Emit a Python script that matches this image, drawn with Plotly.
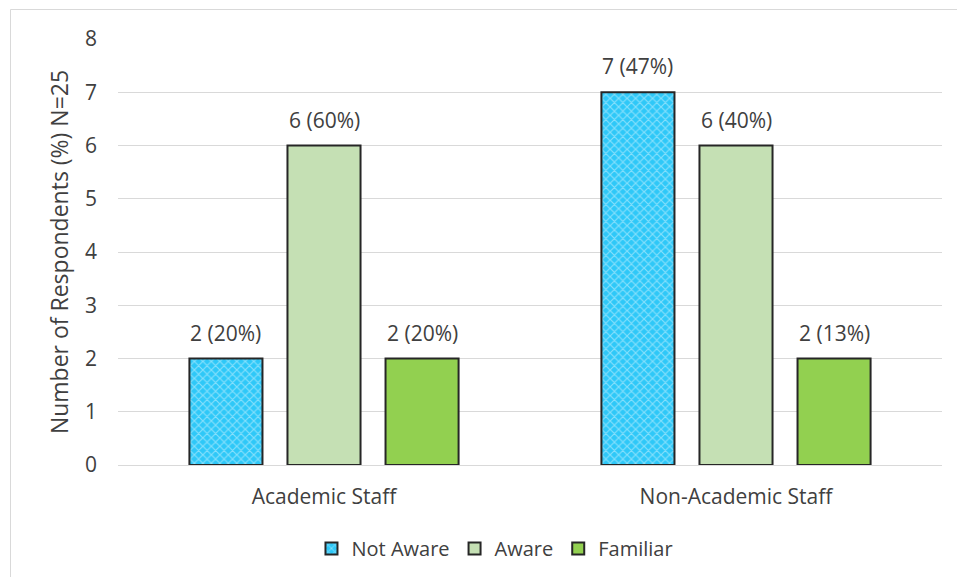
import plotly.graph_objects as go

categories = ["Academic Staff", "Non-Academic Staff"]
not_aware = [2, 7]
aware = [6, 6]
familiar = [2, 2]
not_aware_pct = [20, 47]
aware_pct = [60, 40]
familiar_pct = [20, 13]
y_ticks = [0, 1, 2, 3, 4, 5, 6, 7, 8]

FONT = "Open Sans"
TXT = "#404040"

series = [
    ("Not Aware", not_aware, not_aware_pct,
     dict(color="#2EC8F8", line=dict(color="#262626", width=2),
          pattern=dict(shape="x", fgcolor="#DDF6FF", size=6, solidity=0.35))),
    ("Aware", aware, aware_pct,
     dict(color="#C5E0B4", line=dict(color="#262626", width=2))),
    ("Familiar", familiar, familiar_pct,
     dict(color="#92D050", line=dict(color="#262626", width=2))),
]

fig = go.Figure()
for idx, (name, vals, pcts, marker) in enumerate(series):
    fig.add_trace(go.Bar(name=name, x=categories, y=vals, marker=marker,
                         offsetgroup=str(idx)))

# data labels above each bar
BARGAP, GROUPGAP = 0.286, 0.255
n = len(series)
slot = (1 - BARGAP) / n
annotations = []
for idx, (name, vals, pcts, _) in enumerate(series):
    for ci, (v, p) in enumerate(zip(vals, pcts)):
        xc = ci - (1 - BARGAP) / 2 + slot * (idx + 0.5)
        annotations.append(dict(
            x=xc, y=v, xref="x", yref="y", text=f"{v} ({p}%)",
            showarrow=False, yanchor="bottom", yshift=10,
            font=dict(family=FONT, size=21, color=TXT)))

# plot area: x 118..942 px, y 39..465 px
L, R, T, B = 118, 15, 39, 112
W, H = 957, 577
pw, ph = W - L - R, H - T - B
bx = (10.5 - L) / pw
by = (H - B - 9.5) / ph

fig.update_layout(
    width=W, height=H,
    margin=dict(l=L, r=R, t=T, b=B, autoexpand=False),
    paper_bgcolor="white", plot_bgcolor="white",
    barmode="group", bargap=BARGAP, bargroupgap=GROUPGAP,
    font=dict(family=FONT, size=21, color=TXT),
    xaxis=dict(showline=True, linecolor="#D9D9D9", linewidth=1, ticks="",
               automargin=False, range=[-0.5, 1.5],
               ticklabelstandoff=13,
               tickfont=dict(family=FONT, size=21, color=TXT)),
    yaxis=dict(range=[0, 8], tickvals=y_ticks, showgrid=True, gridcolor="#D9D9D9",
               zeroline=False, showline=False, ticks="", automargin=False,
               ticklabelstandoff=20,
               tickfont=dict(family=FONT, size=21, color=TXT),
               title=dict(text="Number of Respondents (%) N=25", standoff=9,
                          font=dict(family=FONT, size=23, color=TXT))),
    legend=dict(orientation="h", x=0.4575, xanchor="center", y=-0.15, yanchor="top",
                font=dict(family=FONT, size=20, color=TXT),
                itemwidth=30, traceorder="normal"),
    annotations=annotations,
    shapes=[
        dict(type="line", xref="paper", yref="paper", x0=bx, x1=bx, y0=-1, y1=by,
             line=dict(color="#D9D9D9", width=1)),
        dict(type="line", xref="paper", yref="paper", x0=bx, x1=1.2, y0=by, y1=by,
             line=dict(color="#D9D9D9", width=1)),
    ],
)

fig.write_html("out.html")
